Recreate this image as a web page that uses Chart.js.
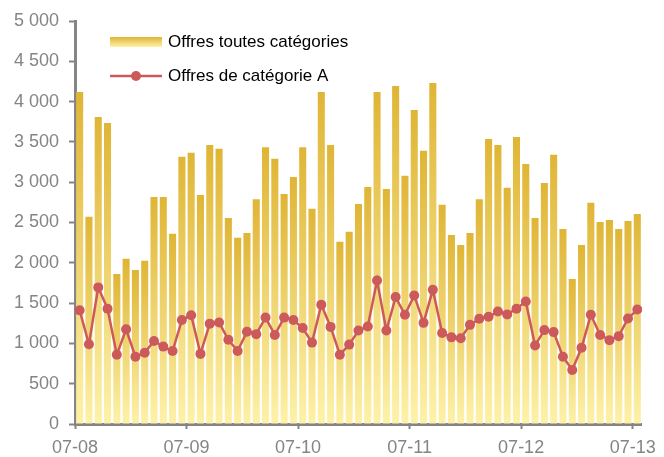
<!DOCTYPE html>
<html>
<head>
<meta charset="utf-8">
<script src="https://cdn.jsdelivr.net/npm/chart.js@4/dist/chart.umd.min.js"></script>
<style>
  body { margin: 0; background: #fff; }
  #wrap { width: 664px; height: 457px; }
</style>
</head>
<body>
<div id="wrap"><canvas id="myChart" width="664" height="457"></canvas></div>
<script>
// monthly values, July 2008 -> July 2013 (61 months)
const tickLabels = ['07-08', '07-09', '07-10', '07-11', '07-12', '07-13'];
const monthsPerTick = 12;

const allOffers = [
  4120, 2570, 3810, 3735, 1860, 2050, 1910, 2025, 2815, 2815, 2360, 3315,
  3365, 2840, 3460, 3415, 2555, 2310, 2370, 2790, 3435, 3290, 2855, 3065,
  3435, 2670, 4120, 3460, 2260, 2385, 2730, 2940, 4120, 2915, 4195, 3080,
  3895, 3390, 4230, 2720, 2345, 2220, 2370, 2790, 3535, 3460, 2930, 3560,
  3225, 2555, 2990, 3340, 2420, 1800, 2220, 2745, 2505, 2530, 2420, 2520,
  2605
];

const catA = [
  1410, 990, 1695, 1430, 860, 1175, 835, 885, 1030, 960, 905, 1290,
  1350, 870, 1245, 1260, 1045, 905, 1145, 1115, 1320, 1105, 1320, 1290,
  1190, 1010, 1480, 1205, 860, 985, 1160, 1210, 1780, 1160, 1575, 1355,
  1595, 1255, 1665, 1130, 1075, 1065, 1230, 1305, 1330, 1395, 1360, 1430,
  1520, 975, 1165, 1140, 835, 670, 945, 1355, 1105, 1040, 1090, 1310,
  1420
];

const goldTop = '#dfb535';
const goldBottom = '#fef2a9';
const red = '#cd5a5b';
const grey = '#858585';

function fmt(v) {
  return String(v).replace(/\B(?=(\d{3})+(?!\d))/g, ' ');
}

function barGradient(ctx, top, bottom) {
  const g = ctx.createLinearGradient(0, top, 0, bottom);
  g.addColorStop(0, goldTop);
  g.addColorStop(1, goldBottom);
  return g;
}

const barPoints = allOffers.map((v, i) => ({ x: i + 0.5, y: v }));
const linePoints = catA.map((v, i) => ({ x: i + 0.5, y: v }));

// legend drawn inside the plot, top-left
const insideLegend = {
  id: 'insideLegend',
  afterDraw(chart) {
    const c = chart.ctx;
    c.save();
    c.fillStyle = barGradient(c, 37, 47);
    c.fillRect(110, 37, 52, 10);
    c.strokeStyle = red;
    c.lineWidth = 2.5;
    c.beginPath();
    c.moveTo(110, 76);
    c.lineTo(162, 76);
    c.stroke();
    c.fillStyle = red;
    c.beginPath();
    c.arc(136, 76, 5, 0, Math.PI * 2);
    c.fill();
    c.fillStyle = '#000';
    c.font = '17px "Liberation Sans", Arial, sans-serif';
    c.textBaseline = 'middle';
    c.fillText('Offres toutes catégories', 168, 42);
    c.fillText('Offres de catégorie A', 168, 76);
    c.restore();
  }
};

const ctx = document.getElementById('myChart').getContext('2d');
const myChart = new Chart(ctx, {
  type: 'bar',
  data: {
    datasets: [
      {
        type: 'line',
        label: 'Offres de catégorie A',
        data: linePoints,
        borderColor: red,
        backgroundColor: red,
        borderWidth: 2.5,
        pointRadius: 5,
        pointBorderWidth: 0,
        tension: 0,
        order: 0
      },
      {
        label: 'Offres toutes catégories',
        data: barPoints,
        backgroundColor: (c) => {
          if (c.type !== 'data' || !c.chart.chartArea) return goldTop;
          const y = c.chart.scales.y;
          return barGradient(c.chart.ctx, y.getPixelForValue(c.raw.y), y.getPixelForValue(0));
        },
        barPercentage: 0.76,
        categoryPercentage: 1,
        order: 1
      }
    ]
  },
  options: {
    responsive: false,
    animation: false,
    layout: { padding: { top: 21, right: 20, left: 0, bottom: 0 } },
    plugins: { legend: { display: false }, tooltip: { enabled: false } },
    scales: {
      x: {
        type: 'linear',
        min: 0,
        max: allOffers.length,
        offset: false,
        afterBuildTicks: (s) => {
          s.ticks = tickLabels.map((t, i) => ({ value: i * monthsPerTick }));
        },
        afterFit: (s) => { s.height = 33; },
        grid: { offset: false, drawOnChartArea: false, drawTicks: true, tickLength: 5, tickColor: grey, tickWidth: 2 },
        border: { display: true, color: grey, width: 3 },
        ticks: {
          color: grey,
          padding: 8,
          maxRotation: 0,
          autoSkip: false,
          font: { family: '"Liberation Sans", Arial, sans-serif', size: 18 },
          callback: (v) => tickLabels[Math.round(v / monthsPerTick)]
        }
      },
      y: {
        min: 0,
        max: 5000,
        afterFit: (s) => { s.width = 75; },
        grid: { drawOnChartArea: false, drawTicks: true, tickLength: 6, tickColor: grey, tickWidth: 2 },
        border: { display: true, color: grey, width: 3 },
        ticks: {
          stepSize: 500,
          color: grey,
          padding: 10,
          font: { family: '"Liberation Sans", Arial, sans-serif', size: 18 },
          callback: (v) => fmt(v)
        }
      }
    }
  },
  plugins: [insideLegend]
});
</script>
</body>
</html>
